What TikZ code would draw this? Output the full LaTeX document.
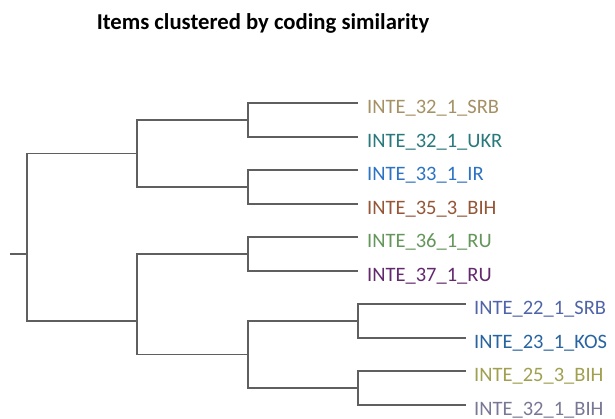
\documentclass[tikz,border=0pt]{standalone}
\usepackage{fontspec}
\setmainfont{Carlito}
\definecolor{branch}{RGB}{95,95,95}
\definecolor{cA}{RGB}{165,145,100}
\definecolor{cB}{RGB}{40,120,125}
\definecolor{cC}{RGB}{45,115,195}
\definecolor{cD}{RGB}{150,85,55}
\definecolor{cE}{RGB}{100,150,90}
\definecolor{cF}{RGB}{100,40,110}
\definecolor{cG}{RGB}{80,100,170}
\definecolor{cH}{RGB}{40,100,160}
\definecolor{cI}{RGB}{160,160,80}
\definecolor{cJ}{RGB}{120,120,150}
\begin{document}
\begin{tikzpicture}[x=1pt,y=-1pt,
  link/.style={draw=branch,line width=1.8pt},
  leaflabel/.style={anchor=base west,inner sep=0pt,font=\fontsize{20.5}{24}\selectfont},
  titletext/.style={anchor=base,inner sep=0pt,font=\fontsize{22.7}{26}\selectfont\bfseries}]
\useasboundingbox[fill=white] (0,0) rectangle (615,419);
\node[titletext] (title) at (263,30) {Items clustered by coding similarity};
% leaf ends
\coordinate (l0) at (358,103.3);
\coordinate (l1) at (358,136.8);
\coordinate (l2) at (358,170.3);
\coordinate (l3) at (358,203.8);
\coordinate (l4) at (358,237.3);
\coordinate (l5) at (358,270.8);
\coordinate (l6) at (466,304.3);
\coordinate (l7) at (466,337.8);
\coordinate (l8) at (466,371.3);
\coordinate (l9) at (466,404.8);
% internal nodes
\coordinate (a) at (248,120.05);
\coordinate (b) at (248,187.05);
\coordinate (c) at (248,254.05);
\coordinate (d) at (358,321.05);
\coordinate (e) at (358,388.05);
\coordinate (g) at (248,354.55);
\coordinate (f) at (137,153.55);
\coordinate (h) at (137,321.05);
\coordinate (r) at (27,254.05);
\coordinate (stub) at (10,254.05);
% labels
\node[leaflabel,text=cA] (t0) at ([xshift=9pt,yshift=-10.5pt]l0) {INTE\_32\_1\_SRB};
\node[leaflabel,text=cB] (t1) at ([xshift=9pt,yshift=-10.5pt]l1) {INTE\_32\_1\_UKR};
\node[leaflabel,text=cC] (t2) at ([xshift=9pt,yshift=-10.5pt]l2) {INTE\_33\_1\_IR};
\node[leaflabel,text=cD] (t3) at ([xshift=9pt,yshift=-10.5pt]l3) {INTE\_35\_3\_BIH};
\node[leaflabel,text=cE] (t4) at ([xshift=9pt,yshift=-10.5pt]l4) {INTE\_36\_1\_RU};
\node[leaflabel,text=cF] (t5) at ([xshift=9pt,yshift=-10.5pt]l5) {INTE\_37\_1\_RU};
\node[leaflabel,text=cG] (t6) at ([xshift=8pt,yshift=-10.5pt]l6) {INTE\_22\_1\_SRB};
\node[leaflabel,text=cH] (t7) at ([xshift=8pt,yshift=-10.5pt]l7) {INTE\_23\_1\_KOS};
\node[leaflabel,text=cI] (t8) at ([xshift=8pt,yshift=-10.5pt]l8) {INTE\_25\_3\_BIH};
\node[leaflabel,text=cJ] (t9) at ([xshift=8pt,yshift=-10.5pt]l9) {INTE\_32\_1\_BIH};
% branches
\draw[link] (stub) -- (r);
\draw[link] (r) |- (f);
\draw[link] (r) |- (h);
\draw[link] (f) |- (a);
\draw[link] (f) |- (b);
\draw[link] (h) |- (c);
\draw[link] (h) |- (g);
\draw[link] (a) |- (l0);
\draw[link] (a) |- (l1);
\draw[link] (b) |- (l2);
\draw[link] (b) |- (l3);
\draw[link] (c) |- (l4);
\draw[link] (c) |- (l5);
\draw[link] (g) |- (d);
\draw[link] (g) |- (e);
\draw[link] (d) |- (l6);
\draw[link] (d) |- (l7);
\draw[link] (e) |- (l8);
\draw[link] (e) |- (l9);
\end{tikzpicture}
\end{document}
